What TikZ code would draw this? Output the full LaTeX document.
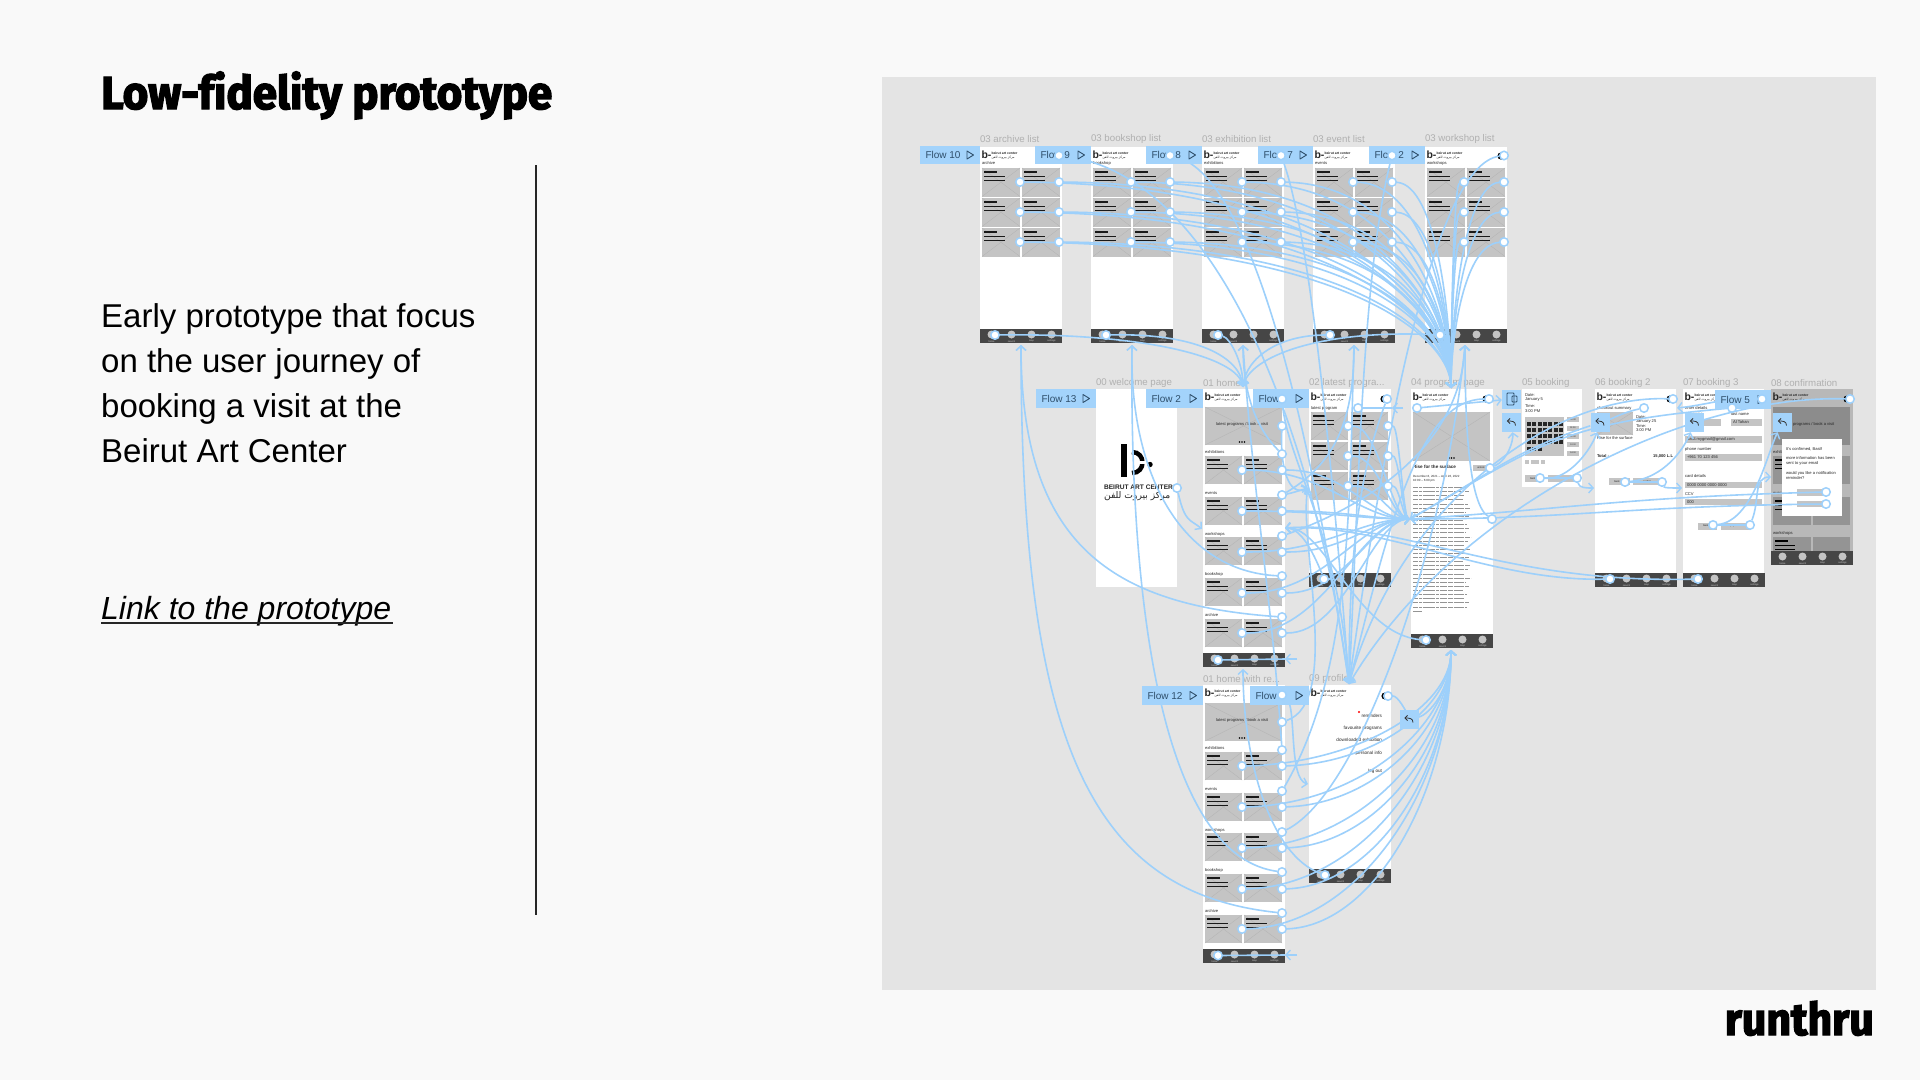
\documentclass[tikz,border=0pt]{standalone}
\usepackage{fontspec}
\usetikzlibrary{arrows.meta,calc}
\setmainfont{Liberation Sans}
\newfontfamily\arab[Script=Arabic]{DejaVu Sans}
\newfontfamily\titlef[BoldFeatures={FakeBold=3,FakeStretch=0.95},Ligatures=NoCommon]{Fira Sans}
\TeXXeTstate=1
\definecolor{pagebg}{HTML}{F9F9F9}
\definecolor{panelbg}{HTML}{E4E4E4}
\definecolor{lkc}{HTML}{9DD0FB}
\definecolor{flowc}{HTML}{A3D3FB}
\definecolor{flowt}{HTML}{2F4F6B}
\definecolor{tilec}{HTML}{C4C4C4}
\definecolor{xc}{HTML}{B4B4B4}
\definecolor{barc}{HTML}{464646}
\definecolor{capc}{HTML}{B0B0B0}
\pgfdeclarelayer{scr}\pgfdeclarelayer{lkl}
\pgfsetlayers{scr,lkl,main}
\newcounter{tn}
\tikzset{
  txt/.style={inner sep=0pt,outer sep=0pt,anchor=west,text=black!85},
  hd/.style={circle,draw=lkc,fill=white,line width=1.5pt,minimum size=8.5pt,inner sep=0pt},
  lnk/.style={draw=lkc,line width=1.6pt,-{Straight Barb[length=4.5pt,width=10pt,line width=1.4pt]}},
  lnp/.style={draw=lkc,line width=1.6pt},
  icb/.style={fill=flowc,minimum size=19pt,inner sep=0pt},
  flw/.style={fill=flowc,inner sep=0pt,anchor=north west,minimum height=18.5pt},
}
\newcommand\tx[4][]{\stepcounter{tn}\node[txt,#1] (tx\arabic{tn}) at ({#2},{#3}) {#4};}
\newcommand\tnyf{\fontsize{4.1}{5}\selectfont}
\newcommand\tnyb{\fontsize{4.6}{5}\selectfont}
\newcommand\capt[3]{\tx[text=capc]{#1}{#2}{\fontsize{9.7}{11}\selectfont #3}}
% tile
\newcommand\wtile[4]{\fill[tilec] ({#1},{#2}) rectangle ++(#3,#4);
  \draw[xc,line width=.35pt] ({#1},{#2}) -- ++(#3,#4);
  \draw[xc,line width=.35pt] ({#1+#3},{#2}) -- ++(-#3,#4);
  \fill[black!90] ({#1+2.3},{#2+3}) rectangle ++(13,1.6);
  \fill[black!90] ({#1+2.3},{#2+8}) rectangle ++(21,1.3);
  \fill[black!90] ({#1+2.3},{#2+12}) rectangle ++(21,1.3);}
\newcommand\wimg[4]{\fill[tilec] ({#1},{#2}) rectangle ++(#3,#4);
  \draw[xc,line width=.35pt] ({#1},{#2}) -- ++(#3,#4);
  \draw[xc,line width=.35pt] ({#1+#3},{#2}) -- ++(-#3,#4);}
% header
\newcommand\hdr[2]{\tx{#1+1.5}{#2+8}{\fontsize{10.5}{12}\selectfont\bfseries b-}
  \tx{#1+11.5}{#2+6.5}{\fontsize{3.4}{3}\selectfont\bfseries beirut art center}
  \tx{#1+11.5}{#2+10.3}{\arab\fontsize{3.2}{3}\selectfont\beginR مركز بيروت للفن\endR}}
\newcommand\eye[2]{\fill[black] (#1,#2) circle (3.6pt);}
% nav bar
\newcommand\navb[2]{\fill[barc] ({#1},{#2}) rectangle ++(82,14);
  \foreach \o/\w in {11.5/home,31.5/search,51.5/map,71.5/settings}{
    \fill[tilec] ({#1+\o},{#2+5.5}) circle (4pt);
    \tx[anchor=center,text=white!80!black]{#1+\o}{#2+12.3}{\fontsize{2.4}{3}\selectfont\w}}}
\newcommand\lstscr[3]{\fill[white] (#1,147) rectangle ++(82,196);
  \hdr{#1}{147}
  \tx{#1+2}{163}{\tnyf #3}
  \foreach \yy in {168,198,228}{\wtile{#1+2}{\yy}{38}{28.5}\wtile{#1+42}{\yy}{38}{28.5}}
  \navb{#1}{329}
  \capt{#1}{139}{#2}}
\newcommand\homescr[3]{\fill[white] (#1,#2) rectangle ++(81.5,#3);
  \hdr{#1}{#2}
  \wimg{#1+2}{#2+18}{77}{38}
  \tx[anchor=center]{#1+39}{#2+35}{\tnyf latest programs / book a visit}
  \foreach \o in {-2.5,0,2.5}{\fill[black] ({#1+39+\o},{#2+53}) circle (.8pt);}
  \foreach \lab/\ly/\ty in {exhibitions/63/67,events/104/108,workshops/145/148,bookshop/185/189,archive/226/230}{
    \tx{#1+2}{#2+\ly}{\tnyf \lab}
    \wtile{#1+2}{#2+\ty}{37}{28}\wtile{#1+41}{#2+\ty}{38}{28}}
  \navb{#1}{#2+264}}
\newcommand\flowl[5]{\stepcounter{tn}\node[flw,minimum width=#2 pt-#1 pt] (fl#5) at (#1,#3) {};
  \node[txt,text=flowt] (flt#5) at (#1+5.5,#3+9.5) {\fontsize{10}{11}\selectfont #4};
  \draw[flowt,line width=.9pt,line join=round] ({#2-13},{#3+5.5}) -- ++(0,8) -- ++(6.5,-4) -- cycle;}
\newcommand\bicon[3]{\node[icb] (#1) at (#2,#3) {};
  \draw[black!80,line width=.8pt] ({#2+4},{#3+3}) .. controls ({#2+4},{#3-1.5}) and ({#2},{#3-1.5}) .. ({#2-4},{#3-1.5});
  \draw[black!80,line width=.8pt] ({#2-1.5},{#3-4}) -- ({#2-4},{#3-1.5}) -- ({#2-1.5},{#3+1});}
% link helpers
\newcommand\topl[3]{\pgfmathsetmacro\dxx{(1451-#2)*.75}\pgfmathsetmacro\dyy{(388-#3)*.35}
  \draw[lnk] (#1) .. controls +(\dxx,3) and +(0,-\dyy) .. (p4T);}
\newcommand\botl[3]{\pgfmathsetmacro\dxx{(1451-#2)*.55}\pgfmathsetmacro\dyy{(#3-650)*.5}
  \draw[lnk] (#1) .. controls +(\dxx,-3) and +(0,\dyy) .. (p4B);}
\newcommand\midl[3]{\pgfmathsetmacro\dxx{(1410-#2)}\pgfmathsetmacro\ax{\dxx*.5}\pgfmathsetmacro\bx{\dxx*.3}
  \draw[lnk] (#1) .. controls +(\ax,0) and +(-\bx,0) .. (p4L);}
\begin{document}
\begin{tikzpicture}[x=1pt,y=-1pt]
\useasboundingbox (0,0) rectangle (1920,1080);
\begin{pgfonlayer}{scr}
\fill[pagebg] (0,0) rectangle (1920,1080);
\fill[panelbg] (882,77) rectangle (1876,990);
\lstscr{980}{03 archive list}{archive}
\lstscr{1091}{03 bookshop list}{bookshop}
\lstscr{1202}{03 exhibition list}{exhibitions}
\lstscr{1313}{03 event list}{events}
\lstscr{1425}{03 workshop list}{workshops}
\eye{1501}{156}
% welcome
\fill[white] (1096,389) rectangle (1177,587);
\capt{1096}{383}{00 welcome page}
\fill[black] (1121,444) rectangle (1126.5,477);
\draw[black,line width=4.5pt] (1132,452) .. controls (1146,452) and (1146,473) .. (1132,473);
\fill[white] (1138,461) rectangle (1146,464);
\fill[black] (1150,464.5) circle (2.7pt);
\tx{1104}{487.5}{\fontsize{6.6}{8}\selectfont\bfseries BEIRUT ART CENTER}
\tx{1104}{496}{\arab\fontsize{9.2}{11}\selectfont\beginR مركز بيروت للفن\endR}
% home
\homescr{1203}{389}{278}
\capt{1203}{383}{01 home}
% latest
\fill[white] (1309,389) rectangle ++(81.5,198);
\hdr{1309}{389}\eye{1384}{399}
\tx{1311}{408}{\tnyf latest program}
\foreach \yy in {412,442,472}{\wtile{1311}{\yy}{37}{28}\wtile{1351}{\yy}{37}{28}}
\navb{1309}{573}
\capt{1309}{383}{02 latest progra...}
% program
\fill[white] (1411,389) rectangle ++(81.5,259);
\hdr{1411}{389}\eye{1486}{399}
\wimg{1413}{412}{77}{49}
\foreach \o in {-2.5,0,2.5}{\fill[black] ({1451.5+\o},458) circle (.8pt);}
\tx{1413}{467}{\tnyb\bfseries Rise for the surface}
\fill[tilec] (1473,465) rectangle (1490,471);
\tx[anchor=center]{1481}{468}{\fontsize{2.6}{3}\selectfont unlock}
\tx{1413}{477}{\fontsize{3}{3}\selectfont December 8, 2021 -- April 26, 2022}
\tx{1413}{480.5}{\fontsize{3}{3}\selectfont 10:00 -- 6:00 pm}
\foreach \i/\l in {0/54,1/56,2/52,3/50,4/55,5/57,6/53,7/56,8/50,9/54,10/56,11/53,12/58,13/55,14/52,15/57,16/54,17/56,18/50,19/57,20/55,21/52,22/58,23/53,24/56,25/50,26/54,27/52,28/56,29/54}{
  \draw[black!42,line width=.9pt,dash pattern=on 5pt off .8pt on 3pt off .8pt on 7pt off .8pt] (1413,{487.5+\i*4.12}) -- ++(\l,0);}
\draw[black!42,line width=.9pt] (1413,611) -- ++(9,0);
\navb{1411}{634}
\capt{1411}{383}{04 program page}
% booking 1
\fill[white] (1522,389) rectangle (1582,487);
\capt{1522}{383}{05 booking}
\tx{1525}{395}{\tnyf Date:}\tx{1525}{400}{\tnyf January 5}\tx{1525}{406}{\tnyf Time:}\tx{1525}{411}{\tnyf 3:00 PM}
\fill[tilec] (1525,417) rectangle (1564,456);
\foreach \yy in {422,428,434,440}{\foreach \xx in {0,1,2,3,4,5,6}{\fill[black!85] ({1527+\xx*5.3},\yy) rectangle ++(4,4);}}
\foreach \xx in {0,1,2}{\fill[black!85] ({1527+\xx*5.3},446.5) rectangle ++(4,4);}
\foreach \yy/\w in {417/10:00,425.5/11:00,434/12:00,442/13:00,450.5/14:00}{\fill[tilec] (1567,\yy) rectangle ++(12,5);
  \tx[anchor=center]{1573}{\yy+2.5}{\fontsize{2.2}{3}\selectfont \w}}
\fill[tilec] (1525,460) rectangle ++(4,4);\fill[tilec] (1531,460) rectangle ++(8,4);\fill[tilec] (1541,460) rectangle ++(4,4);
\fill[tilec] (1525,475) rectangle (1543,482);\fill[tilec] (1548,475) rectangle (1580,482);
\tx[anchor=center]{1533}{478.5}{\fontsize{2.6}{3}\selectfont back}
\tx[anchor=center]{1563}{478.5}{\fontsize{2.6}{3}\selectfont confirm}
% booking 2
\fill[white] (1595,389) rectangle ++(81,198);
\hdr{1595}{389}\eye{1670}{399}
\tx{1597}{408}{\tnyf checkout summary}
\wimg{1597}{412}{36}{23}
\tx{1597}{438}{\tnyf Rise for the surface}
\tx{1636}{417}{\tnyf Date:}\tx{1636}{421}{\tnyf January 25}\tx{1636}{426}{\tnyf Time:}\tx{1636}{430}{\tnyf 3:00 PM}
\tx{1597}{456}{\tnyf\bfseries Total :}\tx[anchor=east]{1673}{456}{\tnyf\bfseries 15,000 L.L}
\fill[tilec] (1609,478) rectangle (1630,485);\fill[tilec] (1633,478) rectangle (1662,485);
\tx[anchor=center]{1617}{481.5}{\fontsize{2.6}{3}\selectfont back}
\tx[anchor=center]{1647}{481.5}{\fontsize{2.6}{3}\selectfont confirm}
\navb{1595}{573}
\capt{1595}{383}{06 booking 2}
% booking 3
\fill[white] (1683,389) rectangle ++(81,198);
\hdr{1683}{389}
\tx{1685}{408}{\tnyf enter details}
\tx{1685}{414}{\tnyf first name}\tx{1731}{414}{\tnyf last name}
\fill[tilec] (1685,419) rectangle (1721,425.5);\fill[tilec] (1731,419) rectangle (1762,425.5);
\tx{1733}{422}{\tnyf Al Tahan}
\tx{1685}{431}{\tnyf email}
\fill[tilec] (1685,436) rectangle (1762,443);\tx{1687}{439.5}{\tnyf basil.mygmail@gmail.com}
\tx{1685}{449}{\tnyf phone number}
\fill[tilec] (1685,454) rectangle (1762,461);\tx{1687}{457.5}{\tnyf +961 70 123 456}
\tx{1685}{476}{\tnyf card details}
\fill[tilec] (1685,482) rectangle (1762,488);\tx{1687}{485}{\tnyf 0000 0000 0000 0000}
\tx{1685}{494}{\tnyf CCV}
\fill[tilec] (1685,499) rectangle (1762,505);\tx{1687}{502}{\tnyf 000}
\fill[tilec] (1698,523) rectangle (1717,529.5);\fill[tilec] (1721,523) rectangle (1750,529.5);
\tx[anchor=center]{1706}{526}{\fontsize{2.6}{3}\selectfont back}
\tx[anchor=center]{1735}{526}{\fontsize{2.6}{3}\selectfont pay now}
\navb{1683}{573}
\capt{1683}{383}{07 booking 3}
% confirmation (under overlay)
\fill[black!28] (1771,389) rectangle ++(82,176);
\fill[black!45] (1773,407) rectangle ++(77,38);
\hdr{1771}{389}\eye{1847}{399}
\foreach \yy in {456,497,537}{\fill[black!42] (1773,\yy) rectangle ++(38,28);\fill[black!42] (1813,\yy) rectangle ++(37,28);
  \fill[black] (1775,{\yy+3}) rectangle ++(13,1.6);\fill[black] (1775,{\yy+8}) rectangle ++(20,1.3);\fill[black] (1775,{\yy+12}) rectangle ++(20,1.3);}
\tx{1793}{424}{\tnyf programs / book a visit}
\tx{1773}{452}{\tnyf exhibitions}\tx{1773}{493}{\tnyf events}\tx{1773}{533}{\tnyf workshops}
\navb{1771}{551}
\capt{1771}{383}{08 confirmation}
\fill[white] (1782,439) rectangle (1842,516);
\tx{1786}{449}{\tnyf It's confirmed, Basil!}
\tx{1786}{458}{\tnyf more information has been}
\tx{1786}{463}{\tnyf sent to your email}
\tx{1786}{473}{\tnyf would you like a notification}
\tx{1786}{478}{\tnyf reminder?}
\fill[tilec] (1797,489) rectangle (1826,496);\fill[tilec] (1797,501) rectangle (1826,507);
% lower home
\homescr{1203}{685}{278}
\capt{1203}{679}{01 home with re...}
% profile
\fill[white] (1309,685) rectangle ++(81.5,198);
\hdr{1309}{685}\eye{1385}{696}
\fill[red] (1359,712) circle (1.2pt);
\tx[anchor=east]{1382}{715.5}{\tnyb reminders}
\tx[anchor=east]{1382}{728}{\tnyb favourite programs}
\tx[anchor=east]{1382}{740}{\tnyb downloaded exhibition}
\tx[anchor=east]{1382}{753}{\tnyb personal info}
\tx[anchor=east]{1382}{771}{\tnyb log out}
\navb{1309}{869}
\capt{1309}{679}{09 profile}
\end{pgfonlayer}
%% left column
\node[anchor=base west,inner sep=0pt] (ttl) at (101,109) {\resizebox{451pt}{!}{\titlef\bfseries Low-fidelity prototype}};
\node[anchor=base east,inner sep=0pt] (rth) at (1874,1035) {\resizebox{149pt}{!}{\titlef\bfseries runthru}};
\draw[black!85,line width=1.4pt] (536,165) -- (536,915);
\foreach \yy/\l in {327/Early prototype that focus,372/on the user journey of,417/booking a visit at the,462/Beirut Art Center}{
  \stepcounter{tn}\node[anchor=base west,inner sep=0pt,text=black] (bd\arabic{tn}) at (101,\yy) {\fontsize{33}{38}\selectfont \l};}
\node[anchor=base west,inner sep=0pt,text=black] (lnkt) at (101,619) {\fontsize{32}{38}\selectfont\itshape Link to the prototype};
\draw[black!85,line width=1.2pt] (101,623) -- (393,623);
%% arrow ends
\coordinate (toA) at (1021,345);\coordinate (toB) at (1132,345);\coordinate (toC) at (1243,345);\coordinate (toD) at (1354,345);\coordinate (toE) at (1465,345);
\coordinate (homeT) at (1243,387);\coordinate (homeR) at (1285,528);\coordinate (homeL) at (1202,529);\coordinate (homeB) at (1243,669);
\coordinate (latL) at (1308,488);\coordinate (p4T) at (1451,388);\coordinate (p4L) at (1410,519);\coordinate (p4B) at (1451,650);
\coordinate (profT) at (1349,684);\coordinate (profL) at (1308,784);
\coordinate (b6L) at (1594,488);\coordinate (b7L) at (1682,488);\coordinate (b8L) at (1771,477);\coordinate (b7R) at (1677,408);\coordinate (latR) at (1392,408);\coordinate (latTail) at (1403,408);
\coordinate (h1T) at (1285,659);\coordinate (h1Tail) at (1297,659);\coordinate (h2T) at (1285,955);\coordinate (h2Tail) at (1297,955);
%% flow labels
\flowl{920}{980}{145.5}{Flow 10}{a}
\flowl{1035}{1091}{145.5}{Flow 9}{b}
\flowl{1146}{1202}{145.5}{Flow 8}{c}
\flowl{1258}{1313}{145.5}{Flow 7}{d}
\flowl{1369}{1425}{145.5}{Flow 2}{e}
\flowl{1036}{1096}{389}{Flow 13}{f}
\flowl{1146}{1203}{389}{Flow 2}{g}
\flowl{1253}{1309}{389}{Flow}{h}
\flowl{1142}{1203}{686}{Flow 12}{i}
\flowl{1250}{1309}{686}{Flow}{j}
\flowl{1715}{1771}{390}{Flow 5}{k}
\bicon{bA}{1511.5}{422.5}
\node[icb] (phn) at (1511.5,399) {};
\draw[flowt,line width=.9pt,rounded corners=.8pt] (1507,393) rectangle (1514,405);
\draw[flowt,line width=.9pt,rounded corners=.8pt] (1512,396) rectangle (1517,402);
\bicon{bB}{1600}{422.5}
\bicon{bC}{1694.5}{422.5}
\bicon{bD}{1782.5}{422.5}
\bicon{bE}{1409}{719.5}
%% handles
\foreach \c/\xa/\xb in {a/1020/1059,b/1131/1170,c/1242/1281,d/1353/1392,e/1464/1504}{
  \foreach \r/\yy in {1/182,2/212,3/242}{
    \node[hd] (t\c l\r) at (\xa,\yy) {};
    \node[hd] (t\c r\r) at (\xb,\yy) {};}
  }
\foreach \c/\xx in {a/995,b/1106,c/1218,d/1330,e/1440}{\node[hd] (n\c) at (\xx,335) {};}
\foreach \c/\xx in {a/1059,b/1170,c/1281,d/1392,e/1504}{\node[hd] (f\c) at (\xx,155.5) {};}
% homes
\foreach \h/\o in {m/0,w/296}{
  \node[hd] (\h f) at (1282,399+\o) {};
  \node[hd] (\h s0) at (1282,426+\o) {};
  \foreach \i/\ys/\yt in {1/454/470,2/495/511,3/536/552,4/576/593,5/617/633}{
    \node[hd] (\h s\i) at (1282,\ys+\o) {};
    \node[hd] (\h l\i) at (1242,\yt+\o) {};
    \node[hd] (\h r\i) at (1282,\yt+\o) {};}
  }
\node[hd] (mn) at (1218,660) {};
\node[hd] (wn) at (1218,955.5) {};
\node[hd] (wel) at (1177,488) {};
% latest
\node[hd] (lp) at (1387,399) {};\node[hd] (lb) at (1358,408) {};
\foreach \i/\yy in {1/426,2/456,3/486}{\node[hd] (ll\i) at (1348,\yy) {};\node[hd] (lr\i) at (1388,\yy) {};}
\node[hd] (ln) at (1324,579) {};
% program
\node[hd] (pb) at (1417,408) {};\node[hd] (pp) at (1489,399) {};\node[hd] (pu) at (1490,468) {};\node[hd] (ps) at (1492,519) {};\node[hd] (pn) at (1426,640) {};
% booking
\node[hd] (s1) at (1540,478) {};\node[hd] (s2) at (1577,478) {};
\node[hd] (k1) at (1673,399) {};\node[hd] (k2) at (1644,408) {};\node[hd] (k3) at (1625,482) {};\node[hd] (k4) at (1662,482) {};\node[hd] (kn) at (1610,579) {};
\node[hd] (j1) at (1762,399) {};\node[hd] (j2) at (1732,408) {};\node[hd] (j3) at (1713,525) {};\node[hd] (j4) at (1750,525) {};\node[hd] (jn) at (1698,579) {};
\node[hd] (c1) at (1850,399) {};\node[hd] (c2) at (1826,492) {};\node[hd] (c3) at (1826,504) {};
% profile
\node[hd] (qp) at (1388,696) {};\node[hd] (qn) at (1325,875) {};
%% links
\begin{pgfonlayer}{lkl}
\foreach \c/\xa/\xb in {a/1020/1059,b/1131/1170,c/1242/1281,d/1353/1392,e/1464/1504}{
  \foreach \r/\yy in {1/182,2/212,3/242}{
    \topl{t\c l\r}{\xa}{\yy}\topl{t\c r\r}{\xb}{\yy}}}
% nav to home
\draw[lnk] (na) .. controls +(150,-2) and +(-5,-30) .. (homeT);
\draw[lnk] (nb) .. controls +(90,-2) and +(-3,-30) .. (homeT);
\draw[lnk] (nc) .. controls +(12,3) and +(0,-25) .. (homeT);
\draw[lnk] (nd) .. controls +(-50,0) and +(3,-30) .. (homeT);
\draw[lnk] (ne) .. controls +(-120,-6) and +(6,-30) .. (homeT);
% profile icon links
\draw[lnk] (fa) .. controls +(170,20) and +(-30,-220) .. (profT);
\draw[lnk] (fb) .. controls +(90,20) and +(-30,-200) .. (profT);
\draw[lnk] (fc) .. controls +(30,80) and +(-15,-200) .. (profT);
\draw[lnk] (fd) .. controls +(-30,120) and +(10,-200) .. (profT);
\draw[lnk] (fe) .. controls +(-70,10) and +(35,-250) .. (profT);
\draw[lnk] (mf) .. controls +(5,60) and +(-10,-150) .. (profT);
\draw[lnk] (lp) .. controls +(-30,80) and +(0,-120) .. (profT);
\draw[lnk] (pp) .. controls +(-70,0) and +(40,-160) .. (profT);
\draw[lnk] (k1) .. controls +(-120,-5) and +(50,-180) .. (profT);
\draw[lnk] (c1) .. controls +(-170,-5) and +(100,-170) .. (profT);
\draw[lnk] (j1) .. controls +(-30,-3) and +(30,-3) .. (b7R);
% see more mid
\draw[lnk] (ms1) .. controls +(-25,-25) and +(0,50) .. (toC);
\draw[lnk] (ms2) .. controls +(50,-30) and +(0,80) .. (toD);
\draw[lnk] (ms3) .. controls +(70,-25) and +(-5,110) .. (toE);
\draw[lnk] (ms4) .. controls +(-100,-5) and +(-3,130) .. (toB);
\draw[lnk] (ms5) .. controls +(-170,-12) and +(0,200) .. (toA);
\draw[lnk] (ms0) .. controls +(-2,40) and +(-20,10) .. (latL);
\draw[lnk] (ms2) .. controls +(10,-2) and +(-10,3) .. (latL);
% see more lower
\draw[lnk] (ws1) .. controls +(-10,-150) and +(10,150) .. (toC);
\draw[lnk] (ws2) .. controls +(70,-120) and +(-5,160) .. (toD);
\draw[lnk] (ws3) .. controls +(80,-40) and +(-20,200) .. (toE);
\draw[lnk] (ws4) .. controls +(-110,-15) and +(-3,300) .. (toB);
\draw[lnk] (ws5) .. controls +(-190,-20) and +(0,400) .. (toA);
\draw[lnk] (ws0) .. controls +(60,-20) and +(-10,50) .. (latL);
\draw[lnk] (wf) .. controls +(15,10) and +(-20,-5) .. (profL);
% tiles to program, mid
\foreach \i/\yt in {1/470,2/511,3/552,4/593,5/633}{\midl{ml\i}{1242}{\yt}\midl{mr\i}{1282}{\yt}}
\foreach \i/\yy in {1/426,2/456,3/486}{\midl{ll\i}{1348}{\yy}\midl{lr\i}{1388}{\yy}}
% tiles to program, lower
\foreach \i/\yt in {1/766,2/807,3/848,4/889,5/929}{\botl{wl\i}{1242}{\yt}\botl{wr\i}{1282}{\yt}}
\draw[lnk] (qp) .. controls +(10,0) and +(-3,-8) .. (bE);
\draw[lnk] (bE) .. controls +(20,-5) and +(0,40) .. (p4B);
% nav
\draw[lnk] (ln) .. controls +(-12,-30) and +(15,0) .. (homeR);
\draw[lnk] (pn) .. controls +(-70,-5) and +(40,-3) .. (homeR);
\draw[lnk] (kn) .. controls +(-120,3) and +(100,-5) .. (homeR);
\draw[lnk] (jn) .. controls +(-200,5) and +(120,-8) .. (homeR);
\draw[lnk] (qn) .. controls +(-55,-20) and +(0,90) .. (homeB);
\draw[lnk] (wel) .. controls +(8,35) and +(-12,-10) .. (homeL);
\draw[lnp] (mn) -- (h1T);\draw[lnk] (h1Tail) -- (h1T);
\draw[lnp] (wn) -- (h2T);\draw[lnk] (h2Tail) -- (h2T);
\draw[lnp] (lb) -- (latR);\draw[lnk] (latTail) -- (latR);
% program & booking
\draw[lnk] (pb) -- (phn);
\draw[lnk] (pu) .. controls +(18,-8) and +(2,18) .. (bA);
\draw[lnk] (ps) .. controls +(-22,-15) and +(0,90) .. (toE);
\draw[lnk] (s1) .. controls +(30,2) and +(-8,25) .. (bB);
\draw[lnp] (s1) -- (s2);
\draw[lnk] (s2) .. controls +(2,10) and +(-8,0) .. (b6L);
\draw[lnk] (k3) .. controls +(40,-4) and +(-10,25) .. (bC);
\draw[lnp] (k3) -- (k4);
\draw[lnk] (k4) .. controls +(2,6) and +(-8,0) .. (b7L);
\draw[lnk] (j3) .. controls +(40,-4) and +(-15,30) .. (bD);
\draw[lnp] (j3) -- (j4);
\draw[lnk] (j4) .. controls +(10,-25) and +(-18,0) .. (b8L);
% back links to program
\draw[lnp] (k2) .. controls +(-20,4) and +(10,-3) .. (bB);
\draw[lnk] (bB) .. controls +(-90,30) and +(80,-45) .. (p4L);
\draw[lnk] (j2) .. controls +(-170,15) and +(130,-75) .. (p4L);
\draw[lnk] (c2) .. controls +(-200,5) and +(160,-10) .. (p4L);
\draw[lnk] (c3) .. controls +(-200,2) and +(160,0) .. (p4L);
\end{pgfonlayer}
\end{tikzpicture}
\end{document}
